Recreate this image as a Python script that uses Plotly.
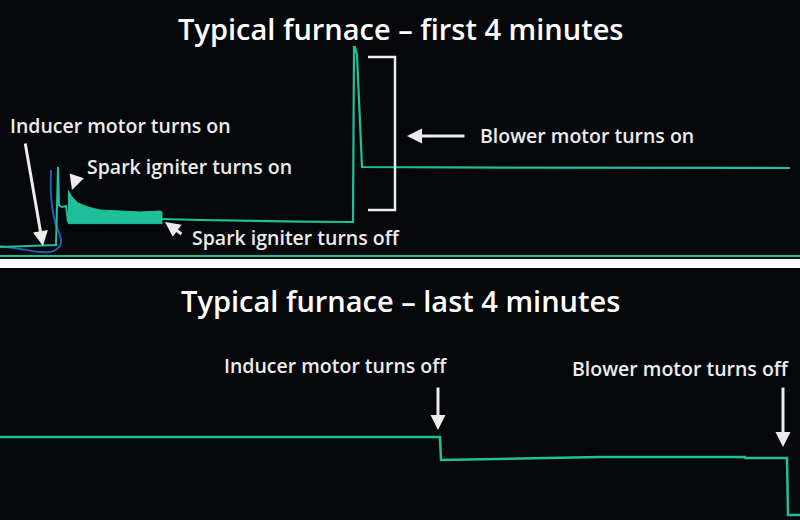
import plotly.graph_objects as go

# ---------------- data (time in s, current in A, arbitrary scale) ----------------
# Top panel: first 4 minutes
top_green_t = [0, 12.9, 16.8, 17.4, 17.7, 18.6, 19.8, 20.4]
top_green_v = [0.15, 0.2, 0.25, 4.15, 2.25, 2.15, 2.2, 1.4]

ign_upper_t = [20.4, 21.6, 23.4, 26.4, 30.0, 36.0, 42.0, 48.0, 48.6]
ign_upper_v = [3.0, 2.65, 2.35, 2.15, 2.0, 1.95, 1.9, 1.95, 1.9]
ign_lower_t = [20.4, 48.6]
ign_lower_v = [1.32, 1.32]

after_t = [48.6, 60.0, 90.0, 105.9, 106.2, 106.5, 107.1, 107.4, 108.0, 108.3, 108.6, 150.0, 200.0, 237.0]
after_v = [1.55, 1.5, 1.42, 1.4, 10.15, 10.15, 9.75, 8.75, 6.5, 5.0, 4.15, 4.12, 4.1, 4.1]

blue_t = [0, 6, 12, 15, 17.1, 18.3, 18.0, 16.8, 15.9, 15.3, 15.3]
blue_v = [0.2, 0.05, -0.1, -0.1, 0.05, 0.35, 0.75, 1.25, 1.9, 2.75, 4.0]

# Bottom panel: last 4 minutes
bot_t = [0, 60, 132.0, 132.3, 180, 223.5, 223.6, 236.1, 236.4, 240]
bot_v = [3.9, 3.9, 3.9, 2.75, 2.9, 2.9, 2.85, 2.85, 0.0, 0.0]

titles = ["Typical furnace \u2013 first 4 minutes", "Typical furnace \u2013 last 4 minutes"]

TEAL = "#1fbf9a"
BLUE = "#1e5fb0"
WHITE = "#ececec"
BG = "#05070b"

fig = go.Figure()

fig.add_trace(go.Scatter(x=blue_t, y=blue_v, mode="lines", line=dict(color=BLUE, width=2, shape="spline"),
                         xaxis="x", yaxis="y", hoverinfo="skip"))
fig.add_trace(go.Scatter(x=top_green_t, y=top_green_v, mode="lines", line=dict(color=TEAL, width=2),
                         xaxis="x", yaxis="y", hoverinfo="skip"))
fig.add_trace(go.Scatter(x=ign_upper_t + ign_lower_t[::-1], y=ign_upper_v + ign_lower_v[::-1],
                         mode="lines", fill="toself", fillcolor=TEAL, line=dict(color=TEAL, width=1),
                         xaxis="x", yaxis="y", hoverinfo="skip"))
fig.add_trace(go.Scatter(x=after_t, y=after_v, mode="lines", line=dict(color=TEAL, width=2.2),
                         xaxis="x", yaxis="y", hoverinfo="skip"))
fig.add_trace(go.Scatter(x=bot_t, y=bot_v, mode="lines", line=dict(color=TEAL, width=2.5),
                         xaxis="x2", yaxis="y2", hoverinfo="skip"))

ax_common = dict(showgrid=False, zeroline=False, showticklabels=False, ticks="", fixedrange=True)
fig.update_layout(
    width=800, height=520,
    margin=dict(l=0, r=0, t=0, b=0),
    paper_bgcolor=BG, plot_bgcolor=BG,
    showlegend=False,
    xaxis=dict(domain=[0, 1], range=[0, 240], anchor="y", showline=True, linecolor=TEAL, linewidth=2, **ax_common),
    yaxis=dict(domain=[1 - 255 / 520, 1], range=[-0.25, 12.5], anchor="x", showline=False, **ax_common),
    xaxis2=dict(domain=[0, 1], range=[0, 240], anchor="y2", showline=False, **ax_common),
    yaxis2=dict(domain=[0, 252 / 520], range=[-0.25, 12.35], anchor="x2", showline=False, **ax_common),
)

FONT = "Open Sans"
ann = []
# titles
ann.append(dict(text=titles[0], x=0.5, y=1 - 28 / 520, xref="paper", yref="paper", showarrow=False,
                font=dict(family=FONT, size=29, color="white", weight=600), xanchor="center", yanchor="middle"))
ann.append(dict(text=titles[1], x=0.5, y=1 - 300 / 520, xref="paper", yref="paper", showarrow=False,
                font=dict(family=FONT, size=29, color="white", weight=600), xanchor="center", yanchor="middle"))

labels = [
    ("Inducer motor turns on", 8, 125),
    ("Spark igniter turns on", 85, 166),
    ("Blower motor turns on", 478, 136),
    ("Spark igniter turns off", 190, 238),
    ("Inducer motor turns off", 222, 365),
    ("Blower motor turns off", 570, 368),
]
for txt, px, py in labels:
    ann.append(dict(text=txt, x=px / 800, y=1 - py / 520, xref="paper", yref="paper", showarrow=False,
                    font=dict(family=FONT, size=19.5, color=WHITE, weight=600), xanchor="left", yanchor="middle"))

# arrows: (head t, head v, tail t, tail v, axis)
arrows = [
    (12.9, 0.2, 7.5, 5.4, "x", "y"),
    (21.6, 3.0, 23.1, 3.75, "x", "y"),
    (49.5, 1.4, 54.9, 0.75, "x", "y"),
    (122.1, 5.7, 139.8, 5.7, "x", "y"),
    (131.4, 4.25, 131.4, 6.45, "x2", "y2"),
    (234.9, 3.4, 234.9, 6.45, "x2", "y2"),
]
for ht, hv, tt, tv, xr, yr in arrows:
    ann.append(dict(text="", x=ht, y=hv, ax=tt, ay=tv, xref=xr, yref=yr, axref=xr, ayref=yr,
                    showarrow=True, arrowhead=2, arrowsize=1, arrowwidth=3, arrowcolor=WHITE, standoff=0))
fig.update_layout(annotations=ann)

# bracket around blower start spike (in data coordinates)
bracket_t = [110.4, 118.5]
bracket_v = [9.65, 2.0]
fig.add_shape(type="path", xref="x", yref="y",
              path=f"M {bracket_t[0]} {bracket_v[0]} L {bracket_t[1]} {bracket_v[0]} L {bracket_t[1]} {bracket_v[1]} L {bracket_t[0]} {bracket_v[1]}",
              line=dict(color=WHITE, width=2.5))

# white separator between panels
fig.add_shape(type="rect", xref="paper", yref="paper", x0=0, x1=1, y0=1 - 268 / 520, y1=1 - 259 / 520,
              fillcolor="white", line=dict(width=0), layer="above")

fig.write_html("out.html", config={"displayModeBar": False},
               post_script="document.body.style.margin='0';document.body.style.background='#05070b';")
